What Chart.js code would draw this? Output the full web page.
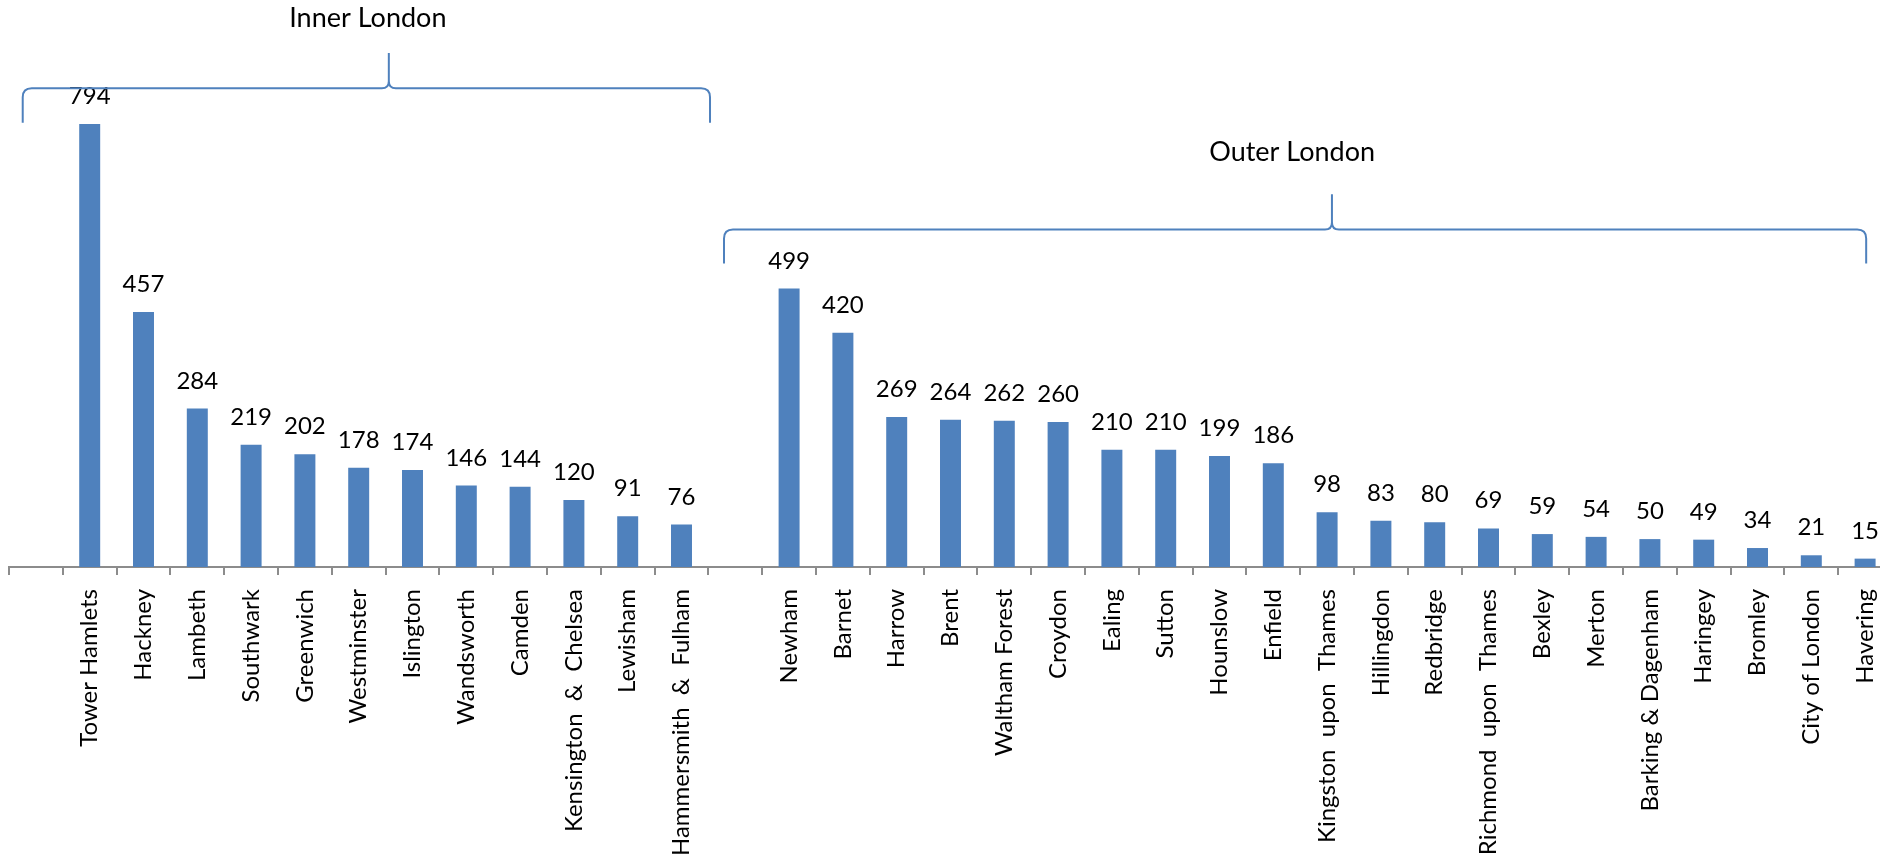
<!DOCTYPE html>
<html>
<head>
<meta charset="utf-8">
<script src="https://cdn.jsdelivr.net/npm/chart.js@4.4.0/dist/chart.umd.min.js"></script>
<style>
  html, body { margin: 0; padding: 0; background: #fff; overflow: hidden; }
  #wrap { width: 1880px; height: 860px; overflow: hidden; }
</style>
</head>
<body>
<div id="wrap"><canvas id="boroughChart" width="1892" height="860"></canvas></div>
<script>
// values
const innerBoroughs = ['Tower Hamlets', 'Hackney', 'Lambeth', 'Southwark', 'Greenwich', 'Westminster',
  'Islington', 'Wandsworth', 'Camden', 'Kensington  &  Chelsea', 'Lewisham', 'Hammersmith  &  Fulham'];
const innerValues = [794, 457, 284, 219, 202, 178, 174, 146, 144, 120, 91, 76];

const outerBoroughs = ['Newham', 'Barnet', 'Harrow', 'Brent', 'Waltham Forest', 'Croydon', 'Ealing',
  'Sutton', 'Hounslow', 'Enfield', 'Kingston  upon  Thames', 'Hillingdon', 'Redbridge',
  'Richmond  upon  Thames', 'Bexley', 'Merton', 'Barking & Dagenham', 'Haringey', 'Bromley',
  'City of London', 'Havering'];
const outerValues = [499, 420, 269, 264, 262, 260, 210, 210, 199, 186, 98, 83, 80, 69, 59, 54, 50, 49, 34, 21, 15];

const groupNames = ['Inner London', 'Outer London'];

// empty slot before each group, like the original sheet
const labels = [''].concat(innerBoroughs, [''], outerBoroughs);
const values = [null].concat(innerValues, [null], outerValues);

const FONT = 'Lato, "Open Sans", sans-serif';
const BLUE = '#4F81BD';

const valueLabels = {
    id: 'valueLabels',
    afterDatasetsDraw(chart) {
        const ctx = chart.ctx;
        const meta = chart.getDatasetMeta(0);
        ctx.save();
        ctx.font = '24px ' + FONT;
        ctx.fillStyle = '#000';
        ctx.textAlign = 'center';
        ctx.textBaseline = 'alphabetic';
        meta.data.forEach((bar, i) => {
            if (values[i] == null) return;
            ctx.fillText(String(values[i]), bar.x, bar.y - 20);
        });
        ctx.restore();
    }
};

// curly brackets over the two groups (positions in category / value units)
const groupBraces = {
    id: 'groupBraces',
    afterDraw(chart) {
        const xs = chart.scales.x, ys = chart.scales.y, ctx = chart.ctx;
        const braces = [
            { from: -0.245, to: 12.53, tip: 6.56, top: 921, mid: 858, foot: 796, textX: 6.17, textY: 968 },
            { from: 12.79, to: 34.02, tip: 24.09, top: 668, mid: 605, foot: 544, textX: 23.35, textY: 728 }
        ];
        ctx.save();
        ctx.strokeStyle = BLUE;
        ctx.lineWidth = 2;
        braces.forEach((b, i) => {
            const x1 = xs.getPixelForValue(b.from), x2 = xs.getPixelForValue(b.to);
            const xt = xs.getPixelForValue(b.tip);
            const yh = ys.getPixelForValue(b.mid), yb = ys.getPixelForValue(b.foot);
            const yt = ys.getPixelForValue(b.top);
            const r = 9, rt = 7;
            ctx.beginPath();
            ctx.moveTo(x1, yb);
            ctx.lineTo(x1, yh + r);
            ctx.quadraticCurveTo(x1, yh, x1 + r, yh);
            ctx.lineTo(xt - rt, yh);
            ctx.quadraticCurveTo(xt, yh, xt, yh - rt);
            ctx.lineTo(xt, yt);
            ctx.moveTo(xt, yh - rt);
            ctx.quadraticCurveTo(xt, yh, xt + rt, yh);
            ctx.lineTo(x2 - r, yh);
            ctx.quadraticCurveTo(x2, yh, x2, yh + r);
            ctx.lineTo(x2, yb);
            ctx.stroke();

            ctx.font = '27px ' + FONT;
            ctx.fillStyle = '#000';
            ctx.textAlign = 'center';
            ctx.textBaseline = 'alphabetic';
            ctx.fillText(groupNames[i], xs.getPixelForValue(b.textX), ys.getPixelForValue(b.textY));
        });
        ctx.restore();
    }
};

new Chart(document.getElementById('boroughChart'), {
    type: 'bar',
    data: {
        labels: labels,
        datasets: [{ data: values, backgroundColor: BLUE, barPercentage: 0.39, categoryPercentage: 1 }]
    },
    options: {
        responsive: false,
        animation: false,
        // canvas is a little wider than the page: the last category runs past the edge, as in the original
        layout: { padding: { left: 9, right: 0, top: 9, bottom: 0 } },
        plugins: { legend: { display: false }, tooltip: { enabled: false } },
        scales: {
            x: {
                offset: true,
                grid: { offset: true, drawOnChartArea: false, drawTicks: true, tickLength: 8, color: '#8c8c8c', lineWidth: 2 },
                border: { display: true, color: '#8c8c8c', width: 2 },
                ticks: { autoSkip: false, minRotation: 90, maxRotation: 90, padding: 14, color: '#000', font: { family: FONT, size: 24 } },
                afterFit: s => {
                    s.height = 293;
                    // no extra side padding for the rotated end labels
                    s.paddingLeft = 0;
                    s.paddingRight = 0;
                }
            },
            y: { display: false, min: 0, max: 1000 }
        }
    },
    plugins: [valueLabels, groupBraces]
});
</script>
</body>
</html>
